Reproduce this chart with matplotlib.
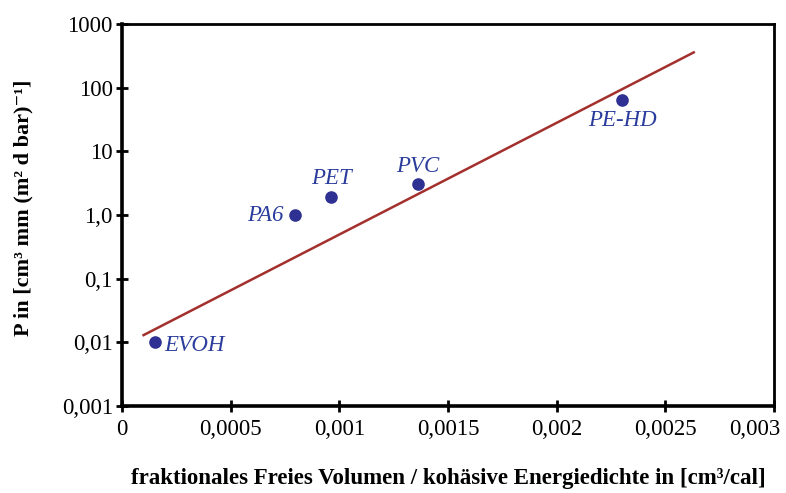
import matplotlib.pyplot as plt
import matplotlib.transforms as mtransforms
from matplotlib.ticker import FixedLocator, FixedFormatter

plt.rcParams['font.family'] = ['Liberation Serif', 'DejaVu Serif']

names = ['EVOH', 'PA6', 'PET', 'PVC', 'PE-HD']
x = [0.000152, 0.000796, 0.000962, 0.001362, 0.0023]
P = [0.01, 1.0, 1.92, 3.05, 65]

trend_x = [0.0001, 0.00263]
trend_y = [0.013, 360]

xticks = [0, 0.0005, 0.001, 0.0015, 0.002, 0.0025, 0.003]
xticklabels = ['0', '0,0005', '0,001', '0,0015', '0,002', '0,0025', '0,003']
yticks = [0.001, 0.01, 0.1, 1, 10, 100, 1000]
yticklabels = ['0,001', '0,01', '0,1', '1,0', '10', '100', '1000']

# label offsets in points (ha, dx, dy)
offs = {'EVOH': ('left', 7, -2), 'PA6': ('right', -8, 0), 'PET': ('center', 0, 13),
        'PVC': ('center', 0, 13), 'PE-HD': ('center', 0, -15)}

fig = plt.figure(figsize=(7.86, 4.93), dpi=100)
ax = fig.add_axes([0.155, 0.1765, 0.83, 0.7745])

ax.plot(trend_x, trend_y, color='#a3302c', lw=1.8, zorder=2)
ax.scatter(x, P, s=65, color='#2e3192', zorder=3)
for n, xi, yi in zip(names, x, P):
    ha, dx, dy = offs[n]
    ax.annotate(n, (xi, yi), xytext=(dx, dy), textcoords='offset points',
                ha=ha, va='center', fontsize=16.5, style='italic', color='#2b3d9c')

ax.set_yscale('log')
ax.set_xlim(0, 0.003)
ax.set_ylim(0.001, 1000)
ax.xaxis.set_major_locator(FixedLocator(xticks))
ax.xaxis.set_major_formatter(FixedFormatter(xticklabels))
ax.yaxis.set_major_locator(FixedLocator(yticks))
ax.yaxis.set_major_formatter(FixedFormatter(yticklabels))
ax.yaxis.set_minor_locator(FixedLocator([]))
ax.tick_params(direction='inout', length=9, width=2, labelsize=16.5, pad=2)
ax.tick_params(axis='x', pad=5)

# last x label is pulled inside like in the original
fig.canvas.draw()
last = ax.get_xticklabels()[-1]
last.set_ha('right')
last.set_transform(last.get_transform() + mtransforms.ScaledTranslation(6 / 100, 0, fig.dpi_scale_trans))

for s in ax.spines.values():
    s.set_linewidth(2)
ax.spines['left'].set_linewidth(2.6)
ax.spines['bottom'].set_linewidth(2.6)

ax.set_xlabel('fraktionales Freies Volumen / kohäsive Energiedichte in [cm³/cal]',
              fontsize=16.5, fontweight='bold', labelpad=20)
ax.set_ylabel('P in [cm³ mm (m² d bar)⁻¹]', fontsize=16, fontweight='bold')
ax.yaxis.set_label_coords(-0.136, 0.52)

fig.savefig('out.png', dpi=100)
